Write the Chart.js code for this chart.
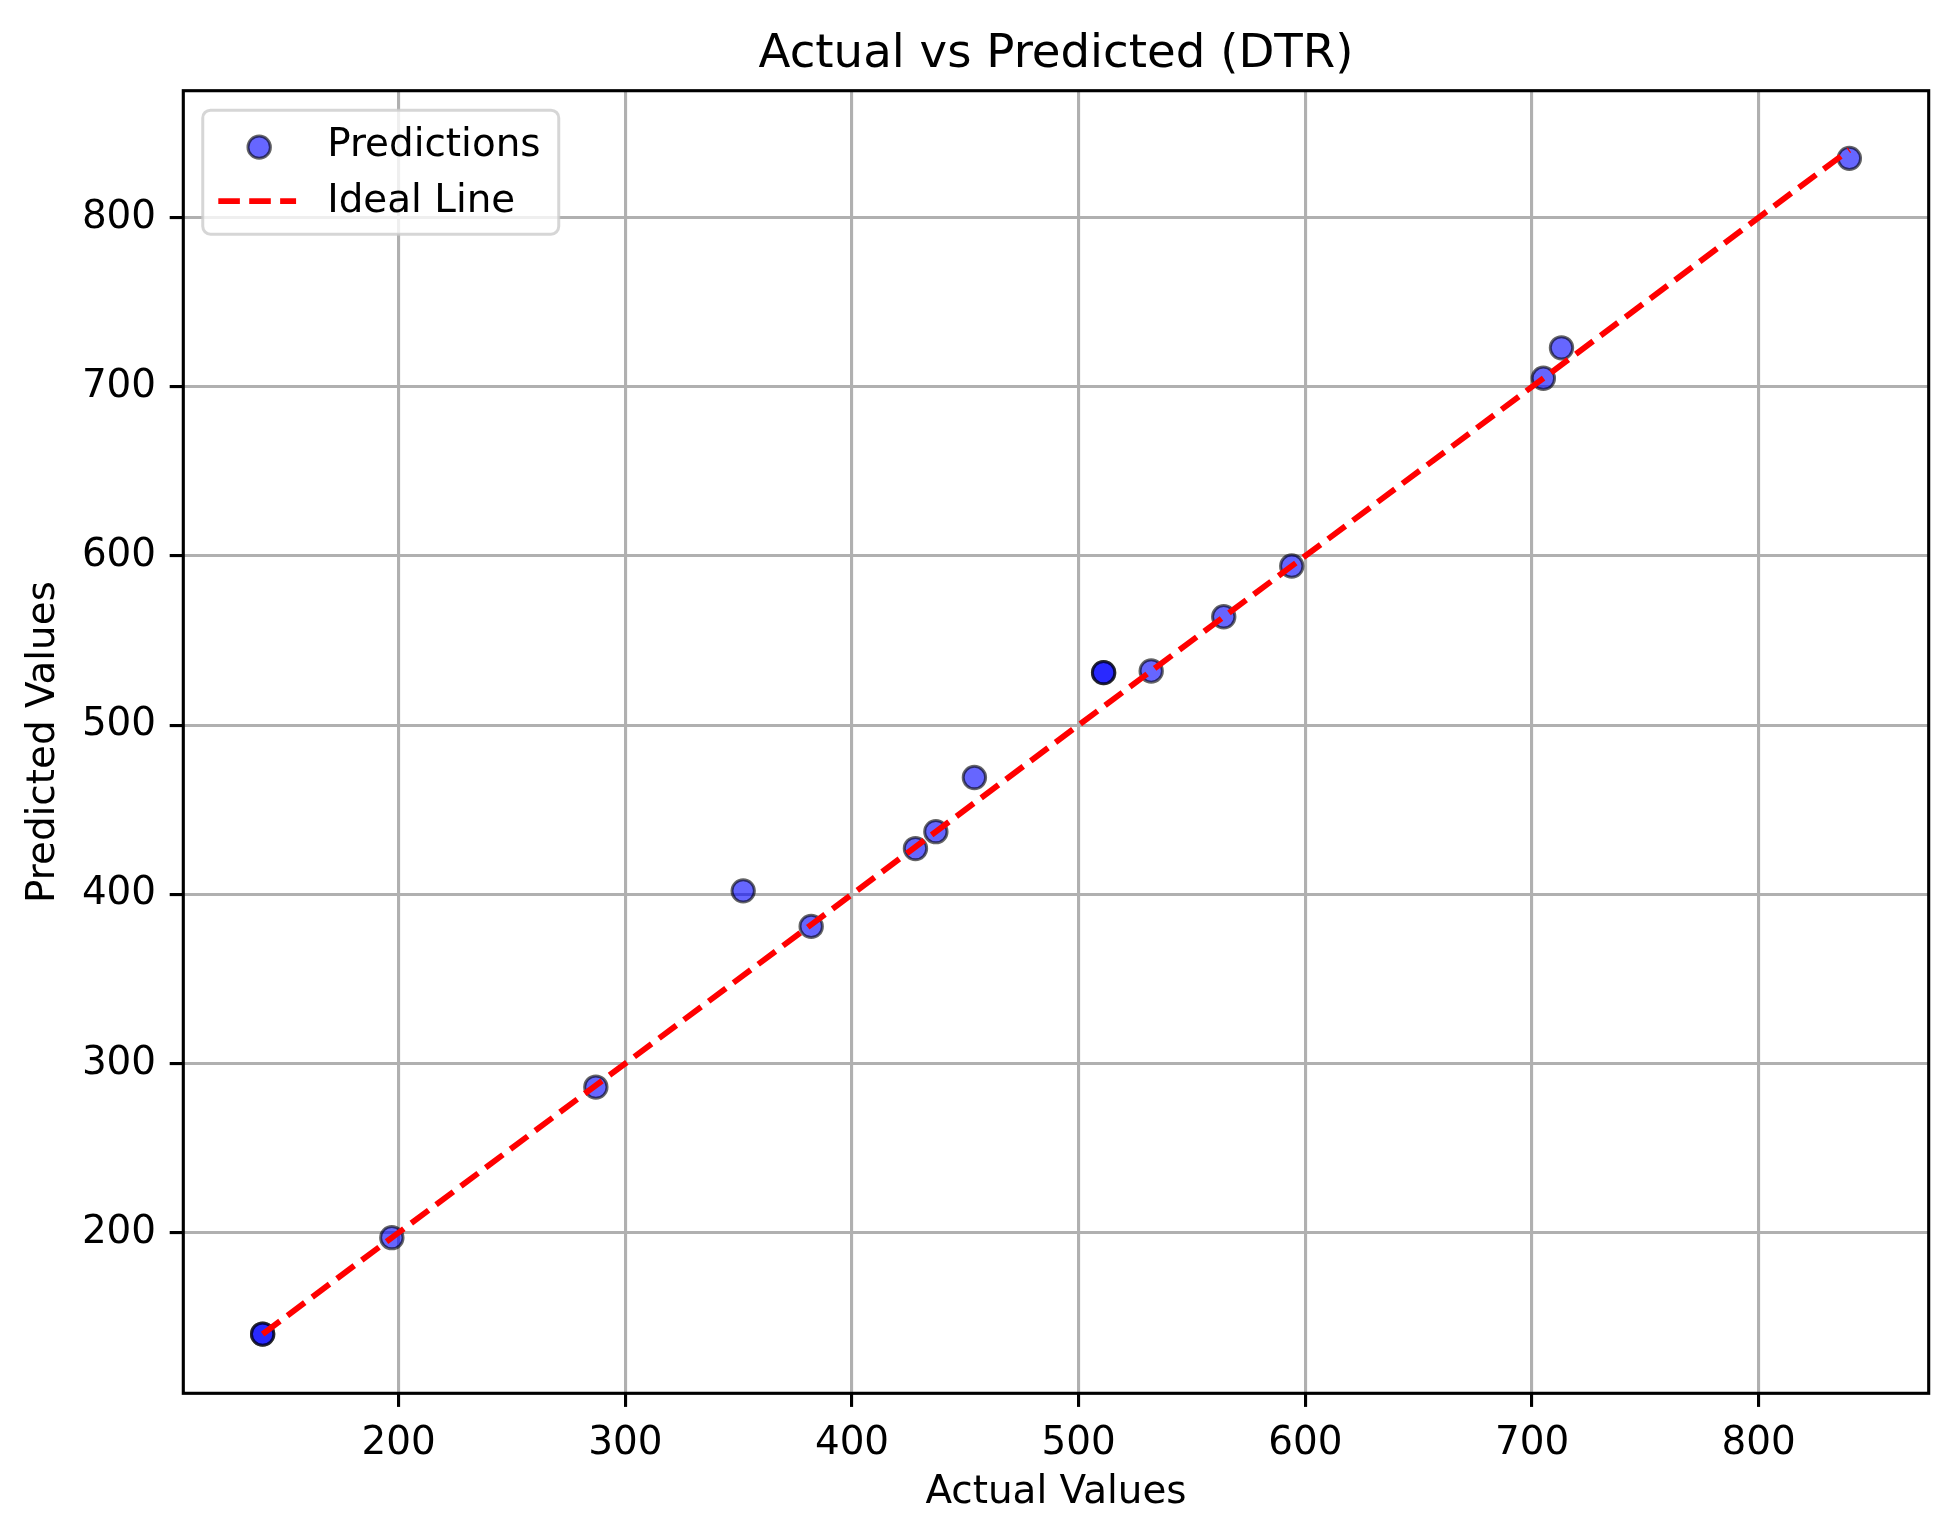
<!DOCTYPE html>
<html>
<head>
<meta charset="utf-8">
<script src="https://cdn.jsdelivr.net/npm/chart.js@4.4.1/dist/chart.umd.min.js"></script>
<style>
html, body { margin: 0; padding: 0; background: #ffffff; }
#wrap { width: 1952px; height: 1529px; position: relative; }
</style>
</head>
<body>
<div id="wrap"><canvas id="chart" width="1952" height="1529"></canvas></div>
<script>
// ---- data ----
const chartTitle = 'Actual vs Predicted (DTR)';
const xAxisLabel = 'Actual Values';
const yAxisLabel = 'Predicted Values';
const seriesNames = ['Predictions', 'Ideal Line'];
const actualValues    = [140, 140, 197, 287, 352, 382, 428, 437, 454, 511, 511, 532, 564, 594, 705, 713, 840];
const predictedValues = [140, 140, 197, 286, 402, 381, 427, 437, 469, 531, 531, 532, 564, 594, 705, 723, 835];
const xTickValues = [200, 300, 400, 500, 600, 700, 800];
const yTickValues = [200, 300, 400, 500, 600, 700, 800];

// ---- styles ----
const PT = 280 / 72;
const FONT = 'DejaVu Sans';
const BASE = 10 * PT;
const TITLE_SIZE = 12 * PT;

const lineMin = Math.min(...actualValues);
const lineMax = Math.max(...actualValues);
const idealLine = [{ x: lineMin, y: lineMin }, { x: lineMax, y: lineMax }];
const scatterPts = actualValues.map((a, i) => ({ x: a, y: predictedValues[i] }));

function bounds(vals) {
  const lo = Math.min(...vals), hi = Math.max(...vals);
  const m = (hi - lo) * 0.05;
  return [lo - m, hi + m];
}
const [xMin, xMax] = bounds(actualValues.concat([lineMin, lineMax]));
const [yMin, yMax] = bounds(predictedValues.concat([lineMin, lineMax]));

const DASH = [3.7 * 1.5 * PT, 1.6 * 1.5 * PT];
const LINE_W = 1.5 * PT;

const framePlugin = {
  id: 'frame',
  afterDatasetsDraw(chart) {
    const { ctx, chartArea: a } = chart;
    ctx.save();
    ctx.strokeStyle = '#000000';
    ctx.lineWidth = 0.8 * PT;
    ctx.strokeRect(a.left, a.top, a.right - a.left, a.bottom - a.top);
    ctx.restore();
  },
  afterDraw(chart) {
    const { ctx, chartArea: a } = chart;
    const em = BASE;
    const bx = a.left + 0.5 * em, by = a.top + 0.5 * em;
    const bw = 356, bh = 124, r = 0.2 * em;
    ctx.save();
    ctx.beginPath();
    ctx.moveTo(bx + r, by);
    ctx.lineTo(bx + bw - r, by);
    ctx.arcTo(bx + bw, by, bx + bw, by + r, r);
    ctx.lineTo(bx + bw, by + bh - r);
    ctx.arcTo(bx + bw, by + bh, bx + bw - r, by + bh, r);
    ctx.lineTo(bx + r, by + bh);
    ctx.arcTo(bx, by + bh, bx, by + bh - r, r);
    ctx.lineTo(bx, by + r);
    ctx.arcTo(bx, by, bx + r, by, r);
    ctx.closePath();
    ctx.fillStyle = 'rgba(255,255,255,0.8)';
    ctx.fill();
    ctx.strokeStyle = 'rgba(204,204,204,0.8)';
    ctx.lineWidth = 3;
    ctx.stroke();

    const hx0 = bx + 0.4 * em, hx1 = hx0 + 2 * em;
    const tx = hx1 + 0.8 * em;
    const row1 = by + 37, row2 = by + 91;
    // marker
    ctx.beginPath();
    ctx.arc((hx0 + hx1) / 2 + 2, row1, 11.2, 0, Math.PI * 2);
    ctx.fillStyle = 'rgba(0,0,255,0.6)';
    ctx.fill();
    ctx.lineWidth = 3;
    ctx.strokeStyle = 'rgba(0,0,0,0.6)';
    ctx.stroke();
    // dashed line
    ctx.beginPath();
    ctx.setLineDash(DASH);
    ctx.lineCap = 'butt';
    ctx.moveTo(hx0, row2);
    ctx.lineTo(hx1, row2);
    ctx.strokeStyle = '#ff0000';
    ctx.lineWidth = LINE_W;
    ctx.stroke();
    ctx.setLineDash([]);
    // text
    ctx.fillStyle = '#000000';
    ctx.font = BASE + 'px "' + FONT + '"';
    ctx.textBaseline = 'middle';
    ctx.textAlign = 'left';
    ctx.fillText(seriesNames[0], tx, row1 - 1);
    ctx.fillText(seriesNames[1], tx, row2 + 1);
    ctx.restore();
  }
};

const tickFont = { family: FONT, size: BASE };

new Chart(document.getElementById('chart'), {
  type: 'scatter',
  data: {
    datasets: [
      {
        label: seriesNames[0],
        data: scatterPts,
        order: 2,
        backgroundColor: 'rgba(0,0,255,0.6)',
        borderColor: 'rgba(0,0,0,0.6)',
        borderWidth: 3,
        pointRadius: 11.2,
        pointHoverRadius: 11.2
      },
      {
        label: seriesNames[1],
        data: idealLine,
        order: 1,
        showLine: true,
        borderColor: '#ff0000',
        backgroundColor: '#ff0000',
        borderWidth: LINE_W,
        borderDash: DASH,
        borderCapStyle: 'butt',
        pointRadius: 0,
        pointHoverRadius: 0,
        fill: false
      }
    ]
  },
  options: {
    responsive: false,
    animation: false,
    events: [],
    layout: { padding: { left: 0, right: 23.3, top: 0, bottom: 0 } },
    plugins: {
      legend: { display: false },
      tooltip: { enabled: false },
      title: {
        display: true,
        text: chartTitle,
        fullSize: false,
        color: '#000000',
        font: { family: FONT, size: TITLE_SIZE, weight: 'normal', lineHeight: 1.2 },
        padding: { top: 27, bottom: 7.7 }
      }
    },
    scales: {
      x: {
        type: 'linear',
        position: 'bottom',
        min: xMin,
        max: xMax,
        border: { display: false },
        grid: {
          color: '#b0b0b0',
          lineWidth: 0.8 * PT,
          drawTicks: true,
          tickLength: 3.5 * PT,
          tickColor: '#000000',
          tickWidth: 0.8 * PT
        },
        ticks: { font: tickFont, color: '#000000', padding: 3.5 * PT, maxRotation: 0, autoSkip: false },
        title: {
          display: true,
          text: xAxisLabel,
          color: '#000000',
          font: { family: FONT, size: BASE, lineHeight: 1.2 },
          padding: { top: 0, bottom: 12.6 }
        },
        afterBuildTicks: (s) => { s.ticks = xTickValues.map(v => ({ value: v })); },
        afterFit: (s) => { s.height = 135.7; }
      },
      y: {
        type: 'linear',
        position: 'left',
        min: yMin,
        max: yMax,
        border: { display: false },
        grid: {
          color: '#b0b0b0',
          lineWidth: 0.8 * PT,
          drawTicks: true,
          tickLength: 3.5 * PT,
          tickColor: '#000000',
          tickWidth: 0.8 * PT
        },
        ticks: { font: tickFont, color: '#000000', padding: 3.5 * PT, autoSkip: false },
        title: {
          display: true,
          text: yAxisLabel,
          color: '#000000',
          font: { family: FONT, size: BASE, lineHeight: 1.2 },
          padding: { top: 20.5, bottom: 0 }
        },
        afterBuildTicks: (s) => { s.ticks = yTickValues.map(v => ({ value: v })); },
        afterFit: (s) => { s.width = 183.3; }
      }
    }
  },
  plugins: [framePlugin]
});
</script>
</body>
</html>
